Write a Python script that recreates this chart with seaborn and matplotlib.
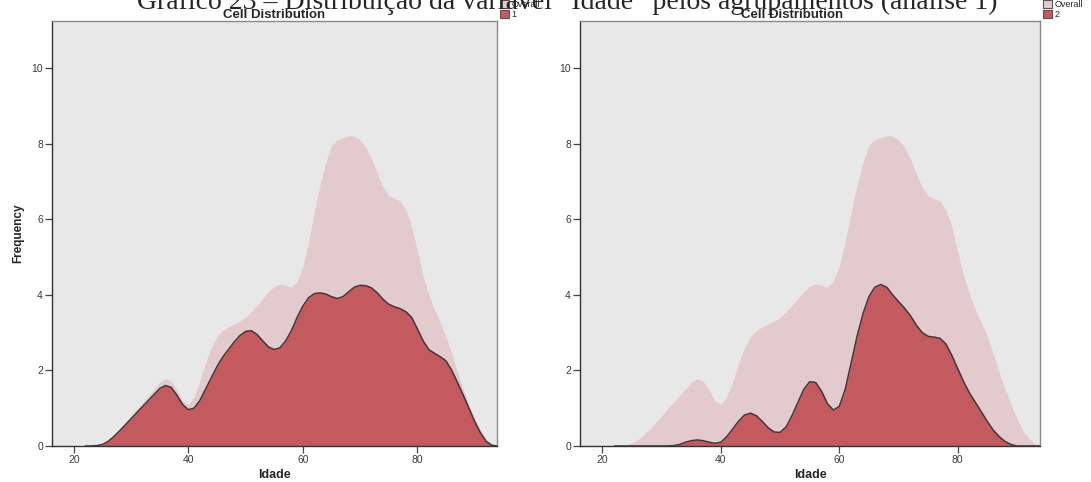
import numpy as np
import pandas as pd
import matplotlib
matplotlib.use("Agg")
import matplotlib.pyplot as plt
from matplotlib.patches import Patch
import seaborn as sns

# Age grid (years) and frequency curves
idade = list(range(22, 95))

overall = [0.0, 0.01, 0.03, 0.08, 0.17, 0.30, 0.45, 0.62, 0.80, 0.98,
           1.15, 1.33, 1.50, 1.68, 1.78, 1.72, 1.48, 1.20, 1.10, 1.30,
           1.70, 2.20, 2.60, 2.90, 3.05, 3.15, 3.23, 3.30, 3.40, 3.55,
           3.72, 3.90, 4.08, 4.22, 4.28, 4.25, 4.20, 4.35, 4.75, 5.40,
           6.20, 6.90, 7.50, 7.95, 8.10, 8.15, 8.20, 8.20, 8.10, 7.90,
           7.60, 7.20, 6.85, 6.62, 6.55, 6.48, 6.25, 5.80, 5.15, 4.50,
           4.00, 3.60, 3.25, 2.90, 2.45, 1.95, 1.50, 1.10, 0.72, 0.42,
           0.20, 0.06, 0.0]

grupo_1 = [0.0, 0.0, 0.01, 0.04, 0.12, 0.25, 0.40, 0.56, 0.72, 0.88,
           1.04, 1.20, 1.36, 1.52, 1.60, 1.55, 1.35, 1.10, 0.96, 1.00,
           1.20, 1.50, 1.80, 2.10, 2.35, 2.55, 2.75, 2.92, 3.03, 3.05,
           2.95, 2.78, 2.62, 2.55, 2.60, 2.78, 3.05, 3.40, 3.70, 3.92,
           4.03, 4.05, 4.02, 3.95, 3.90, 3.95, 4.08, 4.20, 4.25, 4.24,
           4.18, 4.05, 3.88, 3.75, 3.68, 3.63, 3.55, 3.40, 3.10, 2.78,
           2.55, 2.45, 2.36, 2.25, 2.00, 1.68, 1.35, 1.00, 0.65, 0.35,
           0.12, 0.02, 0.0]

grupo_2 = [0.0, 0.0, 0.0, 0.0, 0.0, 0.0, 0.0, 0.0, 0.0, 0.0,
           0.01, 0.04, 0.10, 0.14, 0.16, 0.14, 0.10, 0.07, 0.10, 0.25,
           0.45, 0.66, 0.82, 0.87, 0.80, 0.65, 0.48, 0.37, 0.36, 0.50,
           0.80, 1.15, 1.50, 1.70, 1.68, 1.45, 1.12, 0.95, 1.05, 1.50,
           2.20, 2.90, 3.50, 3.95, 4.20, 4.27, 4.20, 4.00, 3.82, 3.65,
           3.45, 3.20, 3.00, 2.90, 2.88, 2.85, 2.70, 2.40, 2.05, 1.70,
           1.40, 1.15, 0.90, 0.65, 0.42, 0.25, 0.12, 0.04, 0.0, 0.0,
           0.0, 0.0, 0.0]

grupos = ["1", "2"]
x_ticks = [20, 40, 60, 80]
y_ticks = [0, 2, 4, 6, 8, 10]

titulo = "Gráfico 23 – Distribuição da variável \u201cIdade\u201d pelos agrupamentos (análise 1)"
subtitulo = "Cell Distribution"

BG = "#E8E8E8"
PINK = "#E2CACD"
RED = "#C35A5F"
EDGE = "#3A3A3A"

sns.set_theme(style="white")
plt.rcParams["font.family"] = ["Liberation Sans", "DejaVu Sans"]

df = pd.DataFrame({"Idade": idade, "Overall": overall,
                   "1": grupo_1, "2": grupo_2})

fig = plt.figure(figsize=(10.91, 4.82), dpi=100)
W, H = 1091, 482
boxes = [(52, 497), (580, 1040)]
title_x = [0.5, 0.46]
top_px, bot_px = 21, 446

for (x0, x1), g, tx in zip(boxes, grupos, title_x):
    ax = fig.add_axes([x0 / W, (H - bot_px) / H, (x1 - x0) / W,
                       (bot_px - top_px) / H])
    ax.set_facecolor(BG)
    ax.fill_between(df["Idade"], 0, df["Overall"], color=PINK, lw=0,
                    zorder=1)
    ax.fill_between(df["Idade"], 0, df[g], color=RED, lw=0, zorder=2)
    sns.lineplot(data=df, x="Idade", y=g, ax=ax, color=EDGE, lw=1.1,
                 zorder=3)
    ax.set_xlim(16.2, 93.9)
    ax.set_ylim(0, 11.24)
    ax.set_xticks(x_ticks)
    ax.set_yticks(y_ticks)
    ax.tick_params(axis="both", which="both", direction="out", length=5,
                   width=0.9, color="#444444", labelsize=7.5,
                   labelcolor="#3a3a3a", pad=1.5,
                   bottom=True, left=True)
    for side, sp in ax.spines.items():
        sp.set_visible(True)
        sp.set_linewidth(1.0)
        sp.set_color("#333333" if side in ("left", "bottom") else "#8a8a8a")
    ax.set_xlabel("Idade", fontsize=9, fontweight="bold", labelpad=3)
    if g == "1":
        ax.set_ylabel("Frequency", fontsize=8.5, fontweight="bold",
                      labelpad=5)
    else:
        ax.set_ylabel("")
    ax.set_title(subtitulo, fontsize=9.5, fontweight="bold", pad=1.5, x=tx)
    handles = [Patch(facecolor=PINK, edgecolor="#555555", lw=0.8,
                     label="Overall"),
               Patch(facecolor=RED, edgecolor="#555555", lw=0.8, label=g)]
    ax.legend(handles=handles, loc="upper left", bbox_to_anchor=(1.0, 1.055),
              frameon=False, fontsize=6.5, handlelength=1.0,
              handleheight=0.9, handletextpad=0.3, labelspacing=0.1,
              borderaxespad=0.2, borderpad=0.1)

fig.text(0.52, 1 - 9 / H, titulo, ha="center", va="baseline", fontsize=20,
         family=["Liberation Serif", "DejaVu Serif"], zorder=0)

fig.savefig("out.png", dpi=100, facecolor="white")
